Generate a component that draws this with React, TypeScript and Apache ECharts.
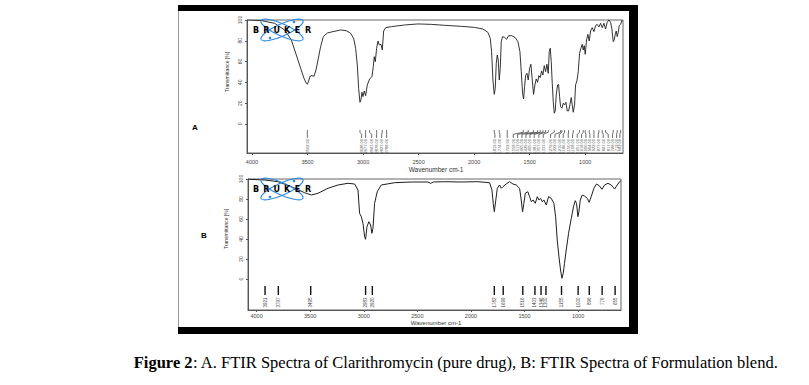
import React, { useEffect, useRef } from "react";
import * as echarts from "echarts";

// Panel A: FTIR spectrum of Clarithromycin (pure drug) [wavenumber cm-1, transmittance %]
const spectrumA: [number, number][] = [
  [4040, 100], [4021, 100], [3916, 99.4], [3796, 96.8], [3706, 90.4], [3646, 80.8], [3601, 66.3],
  [3562, 53.5], [3532, 43.9], [3511, 39.1], [3502, 38.1], [3490, 41.3], [3478, 45.8], [3460, 46.5],
  [3442, 45.8], [3424, 51.9], [3406, 61.5], [3382, 74.4], [3358, 84], [3322, 87.5], [3271, 88.8],
  [3202, 90.4], [3151, 89.7], [3112, 87.2], [3085, 82.4], [3067, 72.8], [3052, 56.7], [3040, 34.3],
  [3028, 20.8], [3019, 23.1], [3010, 30.4], [3001, 26.3], [2989, 31.7], [2977, 27.2], [2962, 37.5],
  [2941, 43.3], [2920, 45.5], [2908, 55.1], [2899, 64.7], [2890, 59.9], [2878, 72.8], [2866, 79.8],
  [2854, 76], [2839, 76.6], [2827, 71.2], [2815, 89.4], [2797, 92.6], [2746, 93.6], [2626, 95.2],
  [2506, 96.2], [2386, 95.8], [2266, 94.9], [2116, 93.9], [1996, 92.9], [1921, 91.3], [1876, 88.1],
  [1855, 82.4], [1843, 69.6], [1831, 42.3], [1819, 28.5], [1810, 34.3], [1801, 58.3], [1792, 66.3],
  [1783, 61.5], [1774, 42.3], [1765, 53.5], [1756, 79.2], [1744, 84], [1726, 83.3], [1708, 81.4],
  [1690, 84.9], [1660, 84.9], [1630, 83], [1606, 79.2], [1588, 69.6], [1576, 50.3], [1564, 29.5],
  [1555, 24], [1546, 35.9], [1537, 46.5], [1525, 48.7], [1513, 42.3], [1501, 53.5], [1489, 57.4],
  [1477, 42.3], [1465, 28.5], [1453, 37.5], [1441, 43.3], [1429, 40.1], [1417, 46.5], [1405, 44.6],
  [1393, 51], [1381, 47.1], [1369, 56.1], [1357, 50.3], [1345, 57.4], [1333, 48.7], [1324, 69.6],
  [1315, 72.8], [1306, 59.9], [1297, 39.1], [1288, 21.5], [1279, 10.3], [1270, 12.5], [1261, 27.9],
  [1249, 37.5], [1240, 38.1], [1231, 26.3], [1222, 16.7], [1210, 15.1], [1198, 19.9], [1186, 18.3],
  [1174, 20.8], [1162, 12.5], [1150, 12.5], [1138, 18.3], [1126, 25.3], [1117, 18.3], [1108, 11.2],
  [1096, 18.3], [1087, 37.5], [1075, 41.3], [1063, 50.3], [1051, 67.9], [1039, 72.8], [1027, 76.6],
  [1018, 71.2], [1009, 75.3], [1000, 67], [988, 80.8], [976, 86.2], [964, 79.8], [952, 89.4],
  [937, 92.6], [922, 88.8], [907, 94.6], [892, 95.8], [877, 93.3], [862, 96.8], [847, 92.6],
  [832, 96.8], [817, 91.3], [802, 97.8], [787, 100], [772, 97.8], [760, 91.3], [748, 79.2],
  [739, 80.8], [730, 86.2], [721, 89.4], [712, 84], [703, 88.1], [694, 94.6], [682, 95.8], [667, 100],
];

// Panel B: FTIR spectrum of the formulation blend
const spectrumB: [number, number][] = [
  [4078, 100], [4065, 99.7], [3925, 99], [3800, 97.3], [3676, 92.3], [3552, 86.3], [3489, 84],
  [3427, 85.7], [3334, 90.7], [3241, 94], [3147, 95.7], [3085, 95], [3054, 89], [3039, 65.7],
  [3023, 62.3], [3007, 55.7], [2992, 42.3], [2983, 39.7], [2970, 52.3], [2952, 57.3], [2936, 54],
  [2924, 45.7], [2914, 50.7], [2899, 75.7], [2874, 87.3], [2837, 94], [2712, 96.3], [2557, 97],
  [2401, 97], [2376, 95.7], [2351, 97], [2246, 97.3], [2090, 97], [1935, 97.3], [1826, 96.3],
  [1804, 89], [1792, 75.7], [1782, 67.3], [1770, 77.3], [1754, 90.7], [1733, 94], [1717, 90.7],
  [1702, 92.3], [1671, 95], [1640, 97.3], [1608, 95], [1577, 94], [1546, 90.7], [1531, 79],
  [1518, 67.3], [1506, 75.7], [1493, 85.7], [1469, 87.3], [1453, 82.3], [1437, 77.3], [1419, 79],
  [1400, 75.7], [1381, 82.3], [1366, 79], [1350, 80.7], [1335, 77.3], [1319, 79], [1297, 74],
  [1276, 82.3], [1251, 80.7], [1226, 75.7], [1210, 62.3], [1195, 39], [1179, 22.3], [1164, 9],
  [1151, 0.7], [1139, 5.7], [1127, 15.7], [1111, 29], [1089, 45.7], [1064, 60.7], [1043, 72.3],
  [1027, 78.3], [1015, 75.7], [1002, 62.3], [993, 67.3], [980, 79], [962, 84], [940, 83],
  [915, 80.7], [897, 76.7], [878, 82.3], [853, 90.7], [828, 95], [800, 93], [778, 89.7],
  [753, 94], [722, 95.7], [691, 94], [660, 90], [635, 94], [613, 97.3], [602, 98],
];

// Peak picks (band position, and where its label is printed)
const peakPositionsA = [3502, 3028, 2977, 2941, 2878, 2827, 2788, 1819, 1774, 1702, 1558, 1513, 1465, 1429, 1405, 1381, 1357, 1333, 1279, 1222, 1210, 1186, 1150, 1108, 1051, 1018, 1000, 964, 922, 877, 847, 817, 748, 712, 682];
const labelPositionsA = [3502, 3013, 2977, 2923, 2878, 2833, 2788, 1813, 1768, 1702, 1648, 1609, 1570, 1534, 1498, 1459, 1417, 1378, 1312, 1273, 1234, 1198, 1153, 1114, 1072, 1033, 994, 958, 922, 883, 838, 793, 754, 718, 688];
const peakPositionsB = [3921, 3797, 3495, 2983, 2920, 1782, 1699, 1516, 1403, 1346, 1300, 1155, 1000, 896, 776, 655];

const xTickValues = [4000, 3500, 3000, 2500, 2000, 1500, 1000];
const yTickValues = [0, 20, 40, 60, 80, 100];

const FONT = "Liberation Sans";

export default function App() {
  const ref = useRef<HTMLDivElement>(null);

  useEffect(() => {
    if (!ref.current) return;
    const chart = echarts.init(ref.current, undefined, { renderer: "svg" });

    const gridA = { left: 247, top: 20, width: 376, height: 133 };
    const gridB = { left: 248, top: 179, width: 373, height: 131 };

    const xAxisBase = (min: number, max: number, gridIndex: number, margin: number) => ({
      type: "value",
      gridIndex,
      inverse: true,
      min,
      max,
      position: "bottom",
      axisLine: { show: true, onZero: false, lineStyle: { color: "#555", width: 1 } },
      axisTick: { show: true, customValues: xTickValues, length: 2, lineStyle: { color: "#555" } },
      axisLabel: {
        customValues: xTickValues,
        formatter: (v: number) => String(v),
        fontSize: 5.5,
        color: "#444",
        margin,
        fontFamily: FONT,
      },
      splitLine: { show: false },
    });
    const yAxisBase = (min: number, gridIndex: number) => ({
      type: "value",
      gridIndex,
      min,
      max: 100,
      axisLine: { show: true, onZero: false, lineStyle: { color: "#555", width: 1 } },
      axisTick: { show: true, customValues: yTickValues, length: 2, lineStyle: { color: "#555" } },
      axisLabel: { customValues: yTickValues, rotate: 90, fontSize: 5, color: "#444", margin: 5, fontFamily: FONT },
      splitLine: { show: false },
    });

    const markerA = (params: any, api: any) => {
      const peak = api.value(0);
      const lab = api.value(1);
      const a = api.coord([peak, -6]);
      const b = api.coord([peak, -8]);
      const c = api.coord([lab, -10]);
      const d = api.coord([lab, -13.5]);
      const t = api.coord([lab, -14.5]);
      return {
        type: "group",
        children: [
          { type: "polyline", shape: { points: [a, b, c, d] }, style: { stroke: "#444", lineWidth: 0.8, fill: null } },
          {
            type: "text",
            x: t[0],
            y: t[1],
            rotation: Math.PI / 2,
            style: { text: peak.toFixed(2), fontSize: 4, fill: "#555", align: "right", verticalAlign: "middle", fontFamily: FONT },
          },
        ],
      };
    };
    const markerB = (params: any, api: any) => {
      const v = api.value(0);
      const a = api.coord([v, -7]);
      const d = api.coord([v, -16]);
      const t = api.coord([v, -18.5]);
      return {
        type: "group",
        children: [
          { type: "line", shape: { x1: a[0], y1: a[1], x2: d[0], y2: d[1] }, style: { stroke: "#111", lineWidth: 1.4 } },
          {
            type: "text",
            x: t[0],
            y: t[1],
            rotation: Math.PI / 2,
            style: { text: String(Math.round(v)), fontSize: 4.5, fill: "#444", align: "right", verticalAlign: "middle", fontFamily: FONT },
          },
        ],
      };
    };

    const logo = (cx: number, cy: number) => {
      const blue = "#2f8ae0";
      const letters = "BRUKER".split("");
      return [
        { type: "ellipse", x: cx, y: cy, rotation: 0.42, shape: { cx: 0, cy: 0, rx: 23, ry: 6 }, style: { stroke: blue, lineWidth: 1.1, fill: null }, z: 100 },
        { type: "ellipse", x: cx, y: cy, rotation: -0.42, shape: { cx: 0, cy: 0, rx: 23, ry: 6 }, style: { stroke: blue, lineWidth: 1.1, fill: null }, z: 100 },
        { type: "circle", shape: { cx: cx - 12, cy: cy + 8, r: 1.3 }, style: { fill: blue }, z: 100 },
        { type: "circle", shape: { cx: cx + 12, cy: cy - 8, r: 1.3 }, style: { fill: blue }, z: 100 },
        ...letters.map((ch, i) => ({
          type: "text",
          x: cx - 26 + i * 10.4,
          y: cy + 0.5,
          z: 101,
          style: { text: ch, fontSize: 8, fontWeight: 900, fill: "#000", align: "center", verticalAlign: "middle", fontFamily: "DejaVu Sans" },
        })),
      ];
    };

    const option: any = {
      animation: false,
      backgroundColor: "#fff",
      grid: [
        { ...gridA, show: true, borderColor: "#666", borderWidth: 1, backgroundColor: "transparent" },
        { ...gridB, show: true, borderColor: "#666", borderWidth: 1, backgroundColor: "transparent" },
      ],
      xAxis: [xAxisBase(660, 4045, 0, 5.5), xAxisBase(600, 4080, 1, 3)],
      yAxis: [yAxisBase(-28, 0), yAxisBase(-31, 1)],
      series: [
        {
          type: "line",
          xAxisIndex: 0,
          yAxisIndex: 0,
          data: spectrumA,
          showSymbol: false,
          lineStyle: { color: "#1e1e1e", width: 0.9 },
        },
        {
          type: "custom",
          xAxisIndex: 0,
          yAxisIndex: 0,
          data: peakPositionsA.map((p, i) => [p, labelPositionsA[i]]),
          renderItem: markerA,
        },
        {
          type: "line",
          xAxisIndex: 1,
          yAxisIndex: 1,
          data: spectrumB,
          showSymbol: false,
          lineStyle: { color: "#1e1e1e", width: 1 },
        },
        {
          type: "custom",
          xAxisIndex: 1,
          yAxisIndex: 1,
          data: peakPositionsB.map((p) => [p]),
          renderItem: markerB,
        },
      ],
      graphic: [
        // figure frame
        { type: "line", shape: { x1: 178.5, y1: 6, x2: 178.5, y2: 330 }, style: { stroke: "#999", lineWidth: 1 } },
        { type: "rect", shape: { x: 178, y: 5, width: 460, height: 6 }, style: { fill: "#000" } },
        { type: "rect", shape: { x: 629, y: 5, width: 9, height: 329 }, style: { fill: "#000" } },
        { type: "rect", shape: { x: 178, y: 327, width: 460, height: 7 }, style: { fill: "#000" } },
        // panel letters
        { type: "text", x: 195, y: 127, style: { text: "A", fontSize: 8, fontWeight: "bold", fill: "#000", align: "center", verticalAlign: "middle", fontFamily: FONT } },
        { type: "text", x: 204, y: 235, style: { text: "B", fontSize: 8, fontWeight: "bold", fill: "#000", align: "center", verticalAlign: "middle", fontFamily: FONT } },
        // axis titles
        { type: "text", x: 436, y: 169, style: { text: "Wavenumber cm-1", fontSize: 6.5, fill: "#333", align: "center", verticalAlign: "middle", fontFamily: FONT } },
        { type: "text", x: 436, y: 323, style: { text: "Wavenumber cm-1", fontSize: 6, fill: "#333", align: "center", verticalAlign: "middle", fontFamily: FONT } },
        { type: "text", x: 227, y: 72, rotation: Math.PI / 2, style: { text: "Transmittance [%]", fontSize: 5, fill: "#333", align: "center", verticalAlign: "middle", fontFamily: FONT } },
        { type: "text", x: 226, y: 229, rotation: Math.PI / 2, style: { text: "Transmittance [%]", fontSize: 5, fill: "#333", align: "center", verticalAlign: "middle", fontFamily: FONT } },
        // logos
        ...logo(282, 30),
        ...logo(282, 189),
        // caption
        {
          type: "text",
          x: 456,
          y: 362,
          style: {
            text: "{b|Figure 2}{n|: A. FTIR Spectra of Clarithromycin (pure drug), B: FTIR Spectra of Formulation blend.}",
            align: "center",
            verticalAlign: "middle",
            rich: {
              b: { fontSize: 16.5, fontWeight: "bold", fontFamily: "Liberation Serif", fill: "#000" },
              n: { fontSize: 16.5, fontFamily: "Liberation Serif", fill: "#000" },
            },
          },
        },
      ],
    };

    chart.setOption(option);
    return () => chart.dispose();
  }, []);

  return (
    <div
      ref={ref}
      style={{ position: "absolute", left: 0, top: 0, width: 809, height: 385, background: "#fff" }}
    />
  );
}
